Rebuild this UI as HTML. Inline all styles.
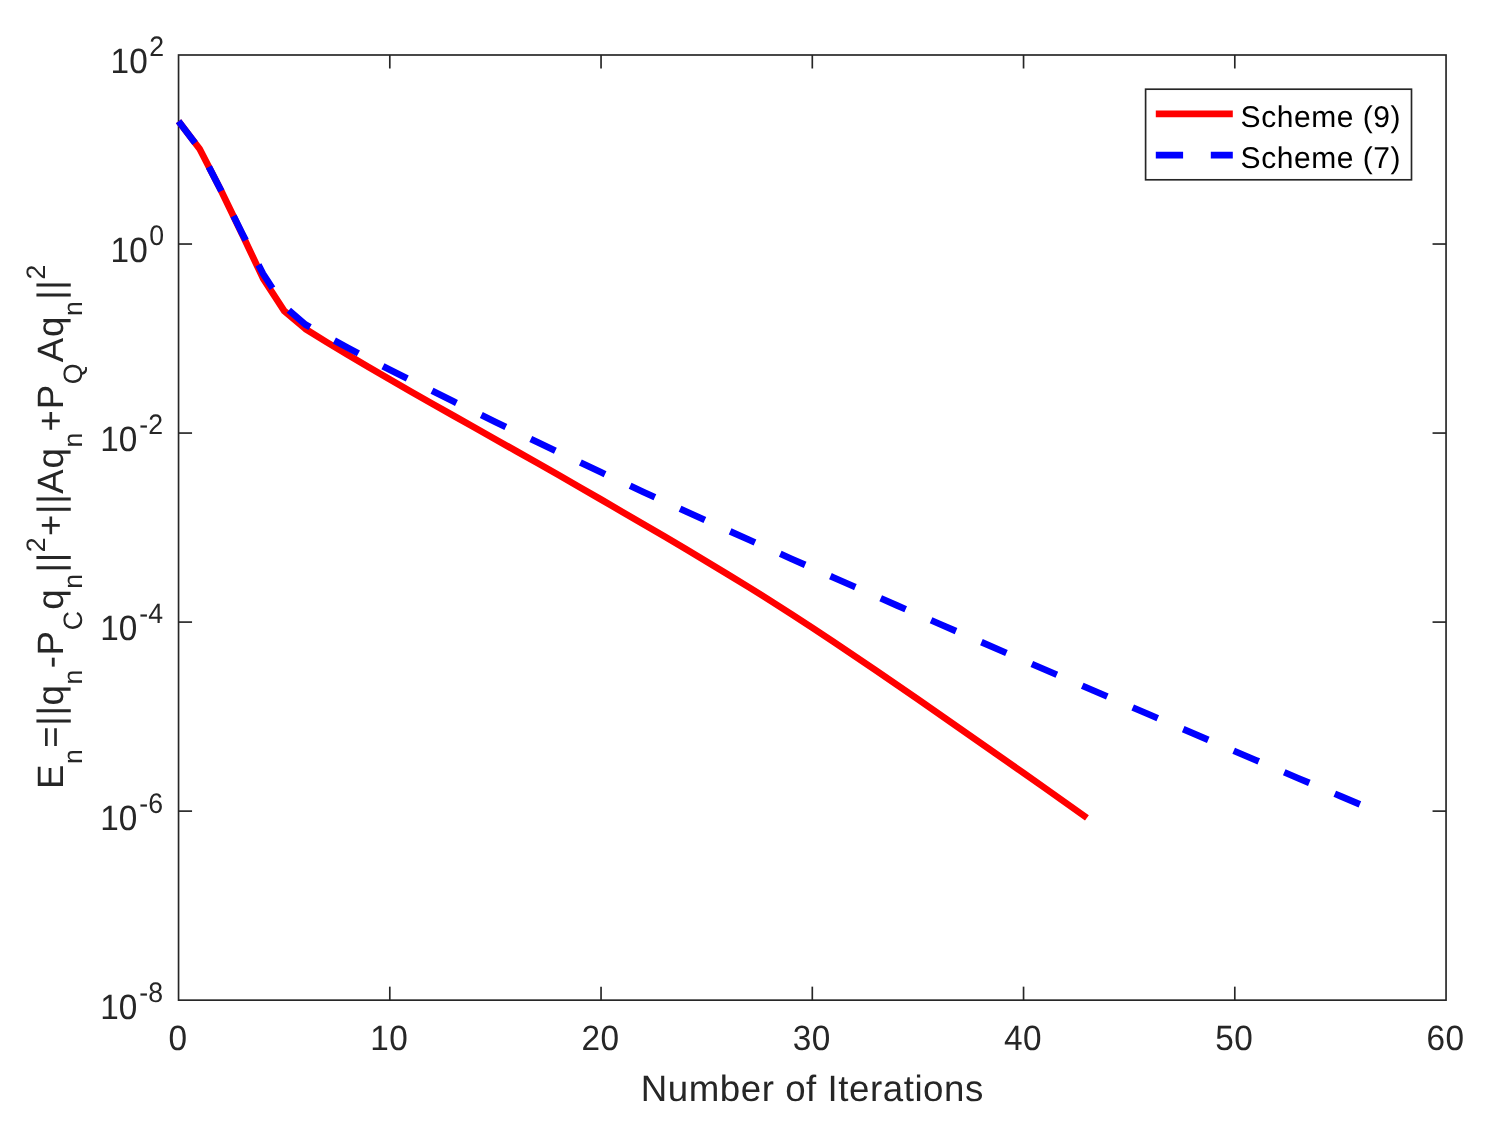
<!DOCTYPE html>
<html lang="en"><head><meta charset="utf-8"><title>Convergence of Scheme (9) and Scheme (7)</title>
<style>
html,body{margin:0;padding:0;background:#fff;}
body{width:1486px;height:1126px;overflow:hidden;}
svg{display:block;}
text{font-family:"Liberation Sans",Arial,Helvetica,sans-serif;fill:#262626;text-rendering:geometricPrecision;}
.tk{font-size:33.33px;}
.ex{font-size:26.67px;}
.lb{font-size:36.67px;letter-spacing:0.55px;}
.lg{font-size:30.00px;fill:#000;letter-spacing:0.55px;}
</style></head><body>
<svg width="1486" height="1126" viewBox="0 0 1486 1126">
<rect x="0" y="0" width="1486" height="1126" fill="#ffffff"/>
<g fill="none" stroke="#262626" stroke-width="1.67" stroke-linecap="butt">
<rect x="178.55" y="55.00" width="1267.50" height="945.15"/>
<line x1="389.80" y1="1000.15" x2="389.80" y2="986.65"/>
<line x1="389.80" y1="55.00" x2="389.80" y2="68.50"/>
<line x1="601.05" y1="1000.15" x2="601.05" y2="986.65"/>
<line x1="601.05" y1="55.00" x2="601.05" y2="68.50"/>
<line x1="812.30" y1="1000.15" x2="812.30" y2="986.65"/>
<line x1="812.30" y1="55.00" x2="812.30" y2="68.50"/>
<line x1="1023.55" y1="1000.15" x2="1023.55" y2="986.65"/>
<line x1="1023.55" y1="55.00" x2="1023.55" y2="68.50"/>
<line x1="1234.80" y1="1000.15" x2="1234.80" y2="986.65"/>
<line x1="1234.80" y1="55.00" x2="1234.80" y2="68.50"/>
<line x1="178.55" y1="244.03" x2="192.05" y2="244.03"/>
<line x1="1446.05" y1="244.03" x2="1432.55" y2="244.03"/>
<line x1="178.55" y1="433.06" x2="192.05" y2="433.06"/>
<line x1="1446.05" y1="433.06" x2="1432.55" y2="433.06"/>
<line x1="178.55" y1="622.09" x2="192.05" y2="622.09"/>
<line x1="1446.05" y1="622.09" x2="1432.55" y2="622.09"/>
<line x1="178.55" y1="811.12" x2="192.05" y2="811.12"/>
<line x1="1446.05" y1="811.12" x2="1432.55" y2="811.12"/>
</g>
<polyline points="178.55,121.30 199.68,149.00 220.80,190.00 241.93,233.80 263.05,278.40 284.18,310.90 305.30,328.80 326.43,342.00 347.55,354.70 368.68,367.10 389.80,379.40 410.93,391.53 432.05,403.57 453.18,415.52 474.30,427.44 495.43,439.33 516.55,451.24 537.67,463.18 558.80,475.18 579.92,487.28 601.05,499.50 622.17,511.79 643.30,524.10 664.42,536.47 685.55,548.94 706.67,561.53 727.80,574.29 748.92,587.24 770.05,600.46 791.17,613.99 812.30,627.80 833.42,641.81 854.55,656.00 875.67,670.32 896.80,684.77 917.92,699.33 939.05,713.97 960.17,728.68 981.30,743.44 1002.42,758.22 1023.55,773.00 1044.67,787.86 1065.80,802.85 1086.92,817.90" fill="none" stroke="#ff0000" stroke-width="6.67" stroke-linejoin="round" stroke-linecap="butt"/>
<polyline points="178.55,121.30 199.68,149.00 220.80,190.00 241.93,233.00 263.05,273.80 284.18,306.30 305.30,324.50 326.43,336.20 347.55,347.60 368.68,358.80 389.80,369.70 410.93,380.31 432.05,390.84 453.18,401.29 474.30,411.65 495.43,421.94 516.55,432.15 537.67,442.29 558.80,452.36 579.92,462.36 601.05,472.30 622.17,482.16 643.30,491.94 664.42,501.63 685.55,511.26 706.67,520.83 727.80,530.35 748.92,539.83 770.05,549.27 791.17,558.69 812.30,568.10 833.42,577.48 854.55,586.80 875.67,596.09 896.80,605.34 917.92,614.56 939.05,623.75 960.17,632.93 981.30,642.09 1002.42,651.25 1023.55,660.40 1044.67,669.54 1065.80,678.67 1086.92,687.78 1108.05,696.88 1129.17,705.96 1150.30,715.03 1171.42,724.08 1192.55,733.13 1213.67,742.17 1234.80,751.20 1255.92,760.22 1277.05,769.22 1298.17,778.21 1319.30,787.19 1340.42,796.15 1361.55,805.10" fill="none" stroke="#0000ff" stroke-width="6.67" stroke-linejoin="round" stroke-linecap="butt" stroke-dasharray="27.25 27.68"/>
<text class="tk" style="letter-spacing:0.5px" transform="translate(177.95,1050.30) scale(1,1.055)" text-anchor="middle">0</text>
<text class="tk" style="letter-spacing:0.5px" transform="translate(389.20,1050.30) scale(1,1.055)" text-anchor="middle">10</text>
<text class="tk" style="letter-spacing:0.5px" transform="translate(600.45,1050.30) scale(1,1.055)" text-anchor="middle">20</text>
<text class="tk" style="letter-spacing:0.5px" transform="translate(811.70,1050.30) scale(1,1.055)" text-anchor="middle">30</text>
<text class="tk" style="letter-spacing:0.5px" transform="translate(1022.95,1050.30) scale(1,1.055)" text-anchor="middle">40</text>
<text class="tk" style="letter-spacing:0.5px" transform="translate(1234.20,1050.30) scale(1,1.055)" text-anchor="middle">50</text>
<text class="tk" style="letter-spacing:0.5px" transform="translate(1445.45,1050.30) scale(1,1.055)" text-anchor="middle">60</text>
<text class="tk" transform="translate(147.67,73.40) scale(1,1.055)" text-anchor="end">10</text>
<text class="ex" transform="translate(164.00,56.40) scale(1,1.055)" text-anchor="end">2</text>
<text class="tk" transform="translate(147.67,262.43) scale(1,1.055)" text-anchor="end">10</text>
<text class="ex" transform="translate(164.00,245.43) scale(1,1.055)" text-anchor="end">0</text>
<text class="tk" transform="translate(137.29,451.46) scale(1,1.055)" text-anchor="end">10</text>
<text class="ex" transform="translate(163.00,434.46) scale(1,1.055)" text-anchor="end">-2</text>
<text class="tk" transform="translate(137.29,640.49) scale(1,1.055)" text-anchor="end">10</text>
<text class="ex" transform="translate(163.00,623.49) scale(1,1.055)" text-anchor="end">-4</text>
<text class="tk" transform="translate(137.29,829.52) scale(1,1.055)" text-anchor="end">10</text>
<text class="ex" transform="translate(163.00,812.52) scale(1,1.055)" text-anchor="end">-6</text>
<text class="tk" transform="translate(137.29,1018.55) scale(1,1.055)" text-anchor="end">10</text>
<text class="ex" transform="translate(163.00,1001.55) scale(1,1.055)" text-anchor="end">-8</text>
<text class="lb" x="812.30" y="1101.10" text-anchor="middle">Number of Iterations</text>
<text class="lb" style="letter-spacing:0.61px" transform="translate(62.9,526.60) rotate(-90)" text-anchor="middle"><tspan font-size="36.67">E</tspan><tspan font-size="26.67" dy="19.4">n</tspan><tspan font-size="36.67" dy="-19.4" dx="0.80">=||q</tspan><tspan font-size="26.67" dy="19.4">n</tspan><tspan font-size="36.67" dy="-19.4" dx="0.80">-P</tspan><tspan font-size="26.67" dy="19.4">C</tspan><tspan font-size="36.67" dy="-19.4" dx="0.80">q</tspan><tspan font-size="26.67" dy="19.4">n</tspan><tspan font-size="36.67" dy="-19.4" dx="0.80">||</tspan><tspan font-size="26.67" dy="-17.8">2</tspan><tspan font-size="36.67" dy="17.8" dx="0.80">+||Aq</tspan><tspan font-size="26.67" dy="19.4">n</tspan><tspan font-size="36.67" dy="-19.4" dx="0.80">+P</tspan><tspan font-size="26.67" dy="19.4">Q</tspan><tspan font-size="36.67" dy="-19.4" dx="0.80">Aq</tspan><tspan font-size="26.67" dy="19.4">n</tspan><tspan font-size="36.67" dy="-19.4" dx="0.80">||</tspan><tspan font-size="26.67" dy="-17.8">2</tspan></text>
<rect x="1145.60" y="89.20" width="265.90" height="90.60" fill="#ffffff" stroke="#262626" stroke-width="1.67"/>
<line x1="1155.8" y1="113.9" x2="1232.8" y2="113.9" stroke="#ff0000" stroke-width="6.67"/>
<line x1="1155.8" y1="155.2" x2="1232.8" y2="155.2" stroke="#0000ff" stroke-width="6.67" stroke-dasharray="27.3 27.7"/>
<text class="lg" x="1240.6" y="126.5">Scheme (9)</text>
<text class="lg" x="1240.6" y="167.8">Scheme (7)</text>
</svg></body></html>
